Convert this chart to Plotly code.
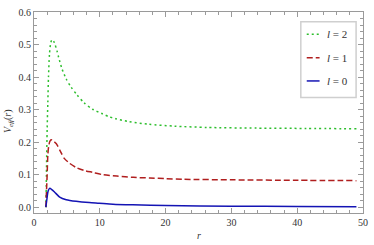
import plotly.graph_objects as go

# ---- data ----
r_l2 = [1.82, 1.9, 2.0, 2.1, 2.2, 2.35, 2.5, 2.65, 2.8, 3.0, 3.2, 3.5, 3.74, 4.24, 4.9, 5.64,
        6.54, 7.6, 8.9, 10.4, 11.4, 12.4, 14.4, 17.4, 21.4, 26.3, 33.8, 41.3, 49.0]
v_l2 = [0.0, 0.12, 0.24, 0.32, 0.40, 0.47, 0.50, 0.512, 0.515, 0.510, 0.500, 0.480, 0.461, 0.426,
        0.394, 0.369, 0.345, 0.321, 0.301, 0.287, 0.278, 0.272, 0.263, 0.255, 0.249, 0.245,
        0.243, 0.242, 0.241]

r_l1 = [1.8, 1.9, 2.0, 2.1, 2.25, 2.45, 2.65, 2.9, 3.4, 4.0, 4.6, 5.4, 6.4, 7.6, 8.9, 10.4,
        12.6, 15.1, 17.6, 20.1, 22.6, 30.0, 40.0, 49.0]
v_l1 = [0.0, 0.05, 0.10, 0.16, 0.19, 0.204, 0.207, 0.204, 0.195, 0.172, 0.150, 0.135, 0.122,
        0.113, 0.107, 0.100, 0.0955, 0.0916, 0.0896, 0.0875, 0.0857, 0.084, 0.0825, 0.0815]

r_l0 = [1.8, 1.9, 2.0, 2.15, 2.4, 2.7, 3.14, 3.9, 4.9, 6.4, 8.4, 9.9, 12.0, 15.0, 20.0, 30.0,
        40.0, 49.0]
v_l0 = [0.0, 0.015, 0.031, 0.050, 0.058, 0.054, 0.046, 0.031, 0.023, 0.018, 0.014, 0.012,
        0.009, 0.007, 0.005, 0.003, 0.002, 0.0015]

x_ticks = [0, 10, 20, 30, 40, 50]
y_ticks = [0.0, 0.1, 0.2, 0.3, 0.4, 0.5, 0.6]
legend_labels = ["<i>l</i> = 2", "<i>l</i> = 1", "<i>l</i> = 0"]

GREEN = "#2DBE2D"
RED = "#B01E1E"
BLUE = "#1414B4"
FRAME = "#9a9a9a"
SERIF = "Liberation Serif, serif"

fig = go.Figure()
series = [
    (r_l2, v_l2, GREEN, "2px,3px"),
    (r_l1, v_l1, RED, "6px,3px"),
    (r_l0, v_l0, BLUE, "solid"),
]
for (rx, vy, col, dash), name in zip(series, legend_labels):
    fig.add_trace(go.Scatter(x=rx, y=vy, mode="lines", name=name, showlegend=False,
                             hoverinfo="skip",
                             line=dict(color=col, width=1.5, dash=dash,
                                       shape="spline", smoothing=0.7)))

axis_common = dict(showline=True, linecolor=FRAME, linewidth=1, mirror="allticks",
                   ticks="inside", tickcolor=FRAME, ticklen=5, showgrid=False,
                   zeroline=False, tickfont=dict(family=SERIF, size=10, color="#333333"))

fig.update_xaxes(range=[0, 50], tickvals=x_ticks, ticktext=[str(v) for v in x_ticks],
                 minor=dict(dtick=2, tick0=0, ticklen=3, ticks="inside", tickcolor=FRAME),
                 **axis_common)
fig.update_yaxes(range=[-0.018, 0.6], tickvals=y_ticks, ticktext=[f"{v:.1f}" for v in y_ticks],
                 minor=dict(dtick=0.02, tick0=0, ticklen=3, ticks="inside", tickcolor=FRAME),
                 **axis_common)

# custom legend (box, line samples, labels) in paper coords
shapes = [dict(type="rect", xref="paper", yref="paper", x0=0.811, x1=0.979, y0=0.575, y1=0.952,
               line=dict(color="#cfcfcf", width=1.5), fillcolor="white", layer="above")]
annotations = []
rows_y = [0.889, 0.773, 0.657]
for (rx, vy, col, dash), label, yy in zip(series, legend_labels, rows_y):
    shapes.append(dict(type="line", xref="paper", yref="paper", x0=0.829, x1=0.868, y0=yy, y1=yy,
                       line=dict(color=col, width=1.5, dash=dash), layer="above"))
    annotations.append(dict(xref="paper", yref="paper", x=0.884, y=yy, text=label,
                            showarrow=False, xanchor="left", yanchor="middle",
                            font=dict(family=SERIF, size=11, color="#333333")))

annotations.append(dict(xref="paper", yref="paper", x=0.5, y=-0.111, text="<i>r</i>",
                        showarrow=False, xanchor="center", yanchor="middle",
                        font=dict(family=SERIF, size=10, color="#333333")))
annotations.append(dict(xref="paper", yref="paper", x=-0.078, y=0.459,
                        text="<i>V</i><sub><i>eff</i></sub>(<i>r</i>)", textangle=-90,
                        showarrow=False, xanchor="center", yanchor="middle",
                        font=dict(family=SERIF, size=10, color="#333333")))

fig.update_layout(width=374, height=245, margin=dict(l=34, r=6, t=6, b=32),
                  plot_bgcolor="white", paper_bgcolor="white", showlegend=False,
                  shapes=shapes, annotations=annotations, hovermode=False,
                  font=dict(family=SERIF))

fig.write_html("out.html", config={"displayModeBar": False},
               post_script="document.body.style.margin='0px';document.body.style.padding='0px';")
